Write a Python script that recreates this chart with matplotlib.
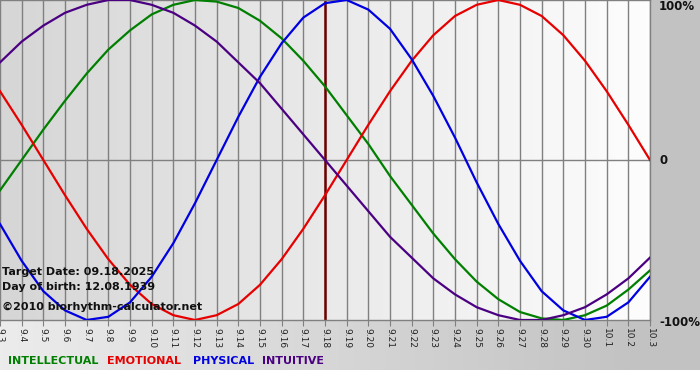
import numpy as np
import matplotlib.pyplot as plt
from matplotlib.colors import LinearSegmentedColormap

# days shown on the x axis
dates = ["9.3", "9.4", "9.5", "9.6", "9.7", "9.8", "9.9", "9.10", "9.11", "9.12",
         "9.13", "9.14", "9.15", "9.16", "9.17", "9.18", "9.19", "9.20", "9.21",
         "9.22", "9.23", "9.24", "9.25", "9.26", "9.27", "9.28", "9.29", "9.30",
         "10.1", "10.2", "10.3"]
target_day = "9.18"

# curve values (fraction of 100%), one per day
intellectual = [-0.19, 0.0, 0.19, 0.37, 0.54, 0.69, 0.81, 0.91, 0.97, 1.0,
                0.99, 0.95, 0.87, 0.76, 0.62, 0.46, 0.28, 0.10, -0.10, -0.28,
                -0.46, -0.62, -0.76, -0.87, -0.95, -0.99, -1.0, -0.97, -0.91,
                -0.81, -0.69]
emotional = [0.43, 0.22, 0.0, -0.22, -0.43, -0.62, -0.78, -0.90, -0.97, -1.0,
             -0.97, -0.90, -0.78, -0.62, -0.43, -0.22, 0.0, 0.22, 0.43, 0.62,
             0.78, 0.90, 0.97, 1.0, 0.97, 0.90, 0.78, 0.62, 0.43, 0.22, 0.0]
physical = [-0.40, -0.63, -0.82, -0.94, -1.0, -0.98, -0.89, -0.73, -0.52, -0.27,
            0.0, 0.27, 0.52, 0.73, 0.89, 0.98, 1.0, 0.94, 0.82, 0.63, 0.40,
            0.14, -0.14, -0.40, -0.63, -0.82, -0.94, -1.0, -0.98, -0.89, -0.73]
intuitive = [0.61, 0.74, 0.84, 0.92, 0.97, 1.0, 1.0, 0.97, 0.92, 0.84, 0.74,
             0.61, 0.48, 0.32, 0.16, 0.0, -0.16, -0.32, -0.48, -0.61, -0.74,
             -0.84, -0.92, -0.97, -1.0, -1.0, -0.97, -0.92, -0.84, -0.74, -0.61]

series = [
    ("INTELLECTUAL", intellectual, "#007f00"),
    ("EMOTIONAL", emotional, "#e60000"),
    ("PHYSICAL", physical, "#0000e0"),
    ("INTUITIVE", intuitive, "#4b0082"),
]

W, H = 700, 380
fig = plt.figure(figsize=(W / 100, H / 100), dpi=100)

# page background: grey gradient down to the legend, white below
bg = fig.add_axes([0, 0, 1, 1])
bg.axis("off")
page = LinearSegmentedColormap.from_list("page", ["#ececec", "#c2c2c2"])
grad = np.tile(np.clip(np.linspace(0, 1.08, W), 0, 1), (2, 1))
bg.imshow(grad, cmap=page, extent=[0, W, H - 370, H], aspect="auto")
bg.set_xlim(0, W)
bg.set_ylim(0, H)

# plot area
ax = fig.add_axes([0, 1 - 320 / H, 650 / W, 320 / H])
x = np.arange(len(dates))
ax.set_xlim(0, len(dates) - 1)
ax.set_ylim(-1.0, 1.0)

plot_bg = LinearSegmentedColormap.from_list("plotbg", ["#d6d6d6", "#fdfdfd"])
ax.imshow(np.tile(np.linspace(0, 1, 200), (2, 1)), cmap=plot_bg,
          extent=[0, len(dates) - 1, -1, 1], aspect="auto", zorder=0)

for xi in x[1:]:
    ax.axvline(xi, color="#808080", lw=1, zorder=1)
ax.axhline(0, color="#808080", lw=1, zorder=1)
ax.axvline(dates.index(target_day), color="#6e0000", lw=1.8, zorder=2)

for name, vals, color in series:
    ax.plot(x, vals, color=color, lw=1.6, zorder=3)

ax.set_xticks(x)
ax.set_xticklabels(dates, rotation=-90, fontsize=6.5, color="#222222")
ax.tick_params(axis="x", length=4, color="#808080", pad=2)
ax.set_yticks([])
for side in ["top", "bottom", "right", "left"]:
    ax.spines[side].set_color("#808080")
    ax.spines[side].set_linewidth(1)

# right-hand scale labels
def px(xp, yp):
    return xp / W, 1 - yp / H

for label, yp in [("100%", 7), ("0", 161), ("-100%", 322)]:
    fig.text(*px(659, yp), label, fontsize=8.5, fontweight="bold",
             ha="left", va="center", color="#111111")

# info text inside the plot
for label, yp in [("Target Date: 09.18.2025", 272),
                  ("Day of birth: 12.08.1939", 287),
                  ("\u00a92010 biorhythm-calculator.net", 307)]:
    fig.text(*px(2, yp), label, fontsize=8, fontweight="bold",
             ha="left", va="center", color="#111111", zorder=5)

# legend row
for (name, vals, color), xp in zip(series, [8, 107, 193, 262]):
    fig.text(*px(xp, 361), name, fontsize=8, fontweight="bold",
             ha="left", va="center", color=color)

fig.savefig("out.png", dpi=100)
